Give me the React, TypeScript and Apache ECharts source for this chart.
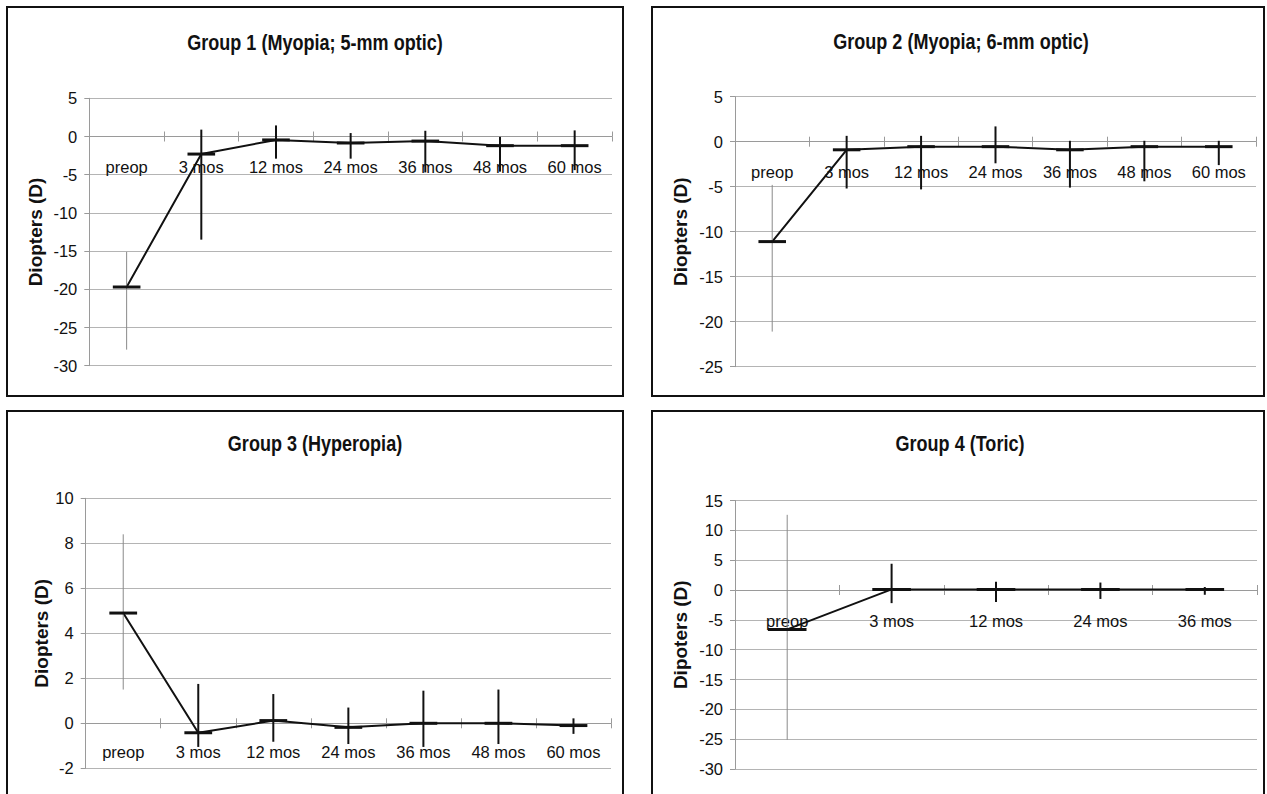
import React, { useEffect, useRef } from "react";
import * as echarts from "echarts";

// ---- data ----
const categories7 = ["preop", "3 mos", "12 mos", "24 mos", "36 mos", "48 mos", "60 mos"];
const categories5 = ["preop", "3 mos", "12 mos", "24 mos", "36 mos"];

const titles = [
  "Group 1 (Myopia; 5-mm optic)",
  "Group 2 (Myopia; 6-mm optic)",
  "Group 3 (Hyperopia)",
  "Group 4 (Toric)",
];
const yNames = ["Diopters (D)", "Diopters (D)", "Diopters (D)", "Dipoters (D)"];
const yMin = [-30, -25, -2, -30];
const yMax = [5, 5, 10, 15];
const yStep = [5, 5, 2, 5];

const g1Mean = [-19.7, -2.3, -0.45, -0.85, -0.6, -1.2, -1.2];
const g1Upper = [-15.1, 0.9, 1.45, 0.45, 0.75, -0.05, 0.8];
const g1Lower = [-27.9, -13.5, -2.9, -2.9, -4.7, -4.6, -4.4];

const g2Mean = [-11.1, -0.9, -0.55, -0.55, -0.9, -0.55, -0.55];
const g2Upper = [-4.8, 0.65, 0.65, 1.7, 0.1, 0.1, 0.1];
const g2Lower = [-21.1, -5.2, -5.3, -2.4, -5.1, -4.4, -2.6];

const g3Mean = [4.9, -0.42, 0.12, -0.18, 0.0, 0.0, -0.1];
const g3Upper = [8.4, 1.75, 1.3, 0.7, 1.45, 1.5, 0.22];
const g3Lower = [1.5, -1.05, -0.82, -0.92, -1.05, -0.92, -0.47];

const g4Mean = [-6.6, 0.1, 0.1, 0.1, 0.1];
const g4Upper = [12.6, 4.4, 1.4, 1.25, 0.5];
const g4Lower = [-25.1, -2.2, -2.0, -1.5, -0.8];

// ---- styling / layout ----
const FONT = "'Liberation Sans', Arial, sans-serif";
const INK = "#111111";
const AXIS_GRAY = "#9a9a9a";
const GRID_GRAY = "#b4b4b4";
const LABEL_SIZE = 16.5;

const panels = [
  { cats: categories7, mean: g1Mean, up: g1Upper, lo: g1Lower,
    grid: { left: 89.3, top: 98.3, width: 522.7, height: 267.4 },
    box: [7, 7, 616, 389], title: [315, 42], nameGap: 44.8, labelMargin: 22 },
  { cats: categories7, mean: g2Mean, up: g2Upper, lo: g2Lower,
    grid: { left: 735, top: 96.7, width: 521, height: 270 },
    box: [652, 7, 612, 389], title: [961, 41], nameGap: 45.5, labelMargin: 21.5 },
  { cats: categories7, mean: g3Mean, up: g3Upper, lo: g3Lower,
    grid: { left: 85.7, top: 498.3, width: 525.3, height: 270 },
    box: [7, 411, 616, 420], title: [315, 443], nameGap: 34, labelMargin: 20 },
  { cats: categories5, mean: g4Mean, up: g4Upper, lo: g4Lower,
    grid: { left: 735, top: 500.5, width: 522, height: 268.5 },
    box: [652, 411, 612, 420], title: [960, 443], nameGap: 45.5, labelMargin: 22.5 },
];

function renderErr(params: any, api: any) {
  const x = api.value(0);
  const lo = api.value(1);
  const hi = api.value(2);
  const m = api.value(3);
  const pLo = api.coord([x, lo]);
  const pHi = api.coord([x, hi]);
  const pM = api.coord([x, m]);
  const bw = api.size([1, 0])[0];
  const pre = x === 0;
  return {
    type: "group",
    children: [
      {
        type: "line",
        shape: { x1: pLo[0], y1: pLo[1], x2: pHi[0], y2: pHi[1] },
        style: { stroke: pre ? "#8a8a8a" : INK, lineWidth: pre ? 1 : 2 },
      },
      {
        type: "line",
        shape: { x1: pM[0] - bw * 0.185, y1: pM[1], x2: pM[0] + bw * 0.185, y2: pM[1] },
        style: { stroke: INK, lineWidth: 3 },
      },
    ],
  };
}

function buildOption() {
  const grid: any[] = [];
  const xAxis: any[] = [];
  const yAxis: any[] = [];
  const series: any[] = [];
  const graphic: any[] = [];

  panels.forEach((p, i) => {
    grid.push({ ...p.grid, containLabel: false });
    // distance from the plot bottom up to the zero line, from the value scale
    const zeroOffset = -(p.grid.height * (0 - yMin[i])) / (yMax[i] - yMin[i]);
    const base = {
      type: "category",
      gridIndex: i,
      data: p.cats,
      position: "bottom",
      offset: zeroOffset,
      boundaryGap: true,
      splitLine: { show: false },
    };
    // labels axis (used by series)
    xAxis.push({
      ...base,
      axisLine: { show: false, onZero: false },
      axisTick: { show: false },
      axisLabel: { interval: 0, margin: p.labelMargin, fontSize: LABEL_SIZE, fontFamily: FONT, color: INK },
    });
    // axis line with downward ticks
    xAxis.push({
      ...base,
      axisLine: { show: true, onZero: false, lineStyle: { color: AXIS_GRAY, width: 1 } },
      axisTick: { show: true, length: 5, lineStyle: { color: AXIS_GRAY } },
      axisLabel: { show: false },
    });
    // upward ticks (cross tick marks)
    xAxis.push({
      ...base,
      axisLine: { show: false, onZero: false },
      axisTick: { show: true, inside: true, length: 5, lineStyle: { color: AXIS_GRAY } },
      axisLabel: { show: false },
    });
    yAxis.push({
      type: "value",
      gridIndex: i,
      min: yMin[i],
      max: yMax[i],
      interval: yStep[i],
      axisLine: { show: true, onZero: false, lineStyle: { color: AXIS_GRAY } },
      axisTick: { show: true, length: 5, lineStyle: { color: AXIS_GRAY } },
      axisLabel: { margin: 12, fontSize: LABEL_SIZE, fontFamily: FONT, color: INK },
      splitLine: { show: true, lineStyle: { color: GRID_GRAY, width: 1 } },
      name: yNames[i],
      nameLocation: "middle",
      nameRotate: 90,
      nameGap: p.nameGap,
      nameTextStyle: { fontFamily: FONT, fontWeight: "bold", fontSize: 19, color: INK },
    });
    series.push({
      type: "line",
      xAxisIndex: 3 * i,
      yAxisIndex: i,
      data: p.mean,
      symbol: "none",
      silent: true,
      lineStyle: { color: INK, width: 2 },
      z: 3,
    });
    series.push({
      type: "custom",
      xAxisIndex: 3 * i,
      yAxisIndex: i,
      data: p.mean.map((m, k) => [k, p.lo[k], p.up[k], m]),
      encode: { x: 0, y: [1, 2, 3] },
      renderItem: renderErr,
      silent: true,
      z: 4,
    });
    graphic.push({
      type: "rect",
      shape: { x: p.box[0], y: p.box[1], width: p.box[2], height: p.box[3] },
      style: { fill: "none", stroke: INK, lineWidth: 2 },
      silent: true,
      z: 10,
    });
    graphic.push({
      type: "text",
      x: p.title[0],
      y: p.title[1],
      scaleX: 0.82,
      style: {
        text: titles[i],
        fill: INK,
        fontSize: 22,
        fontWeight: "bold",
        fontFamily: FONT,
        align: "center",
        verticalAlign: "middle",
        textAlign: "center",
        textVerticalAlign: "middle",
      },
      silent: true,
      z: 10,
    });
  });

  return {
    animation: false,
    backgroundColor: "#ffffff",
    grid,
    xAxis,
    yAxis,
    series,
    graphic,
  };
}

export default function App() {
  const ref = useRef<HTMLDivElement>(null);
  useEffect(() => {
    if (!ref.current) return;
    const chart = echarts.init(ref.current, null, { renderer: "svg" });
    chart.setOption(buildOption() as any);
    return () => chart.dispose();
  }, []);
  return (
    <div
      ref={ref}
      style={{ position: "absolute", left: 0, top: 0, width: 1267, height: 794, background: "#fff" }}
    />
  );
}
